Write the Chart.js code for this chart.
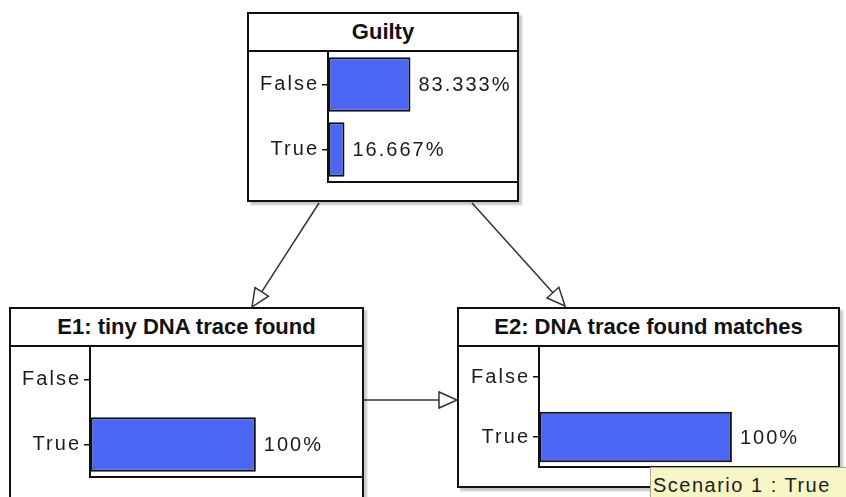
<!DOCTYPE html>
<html>
<head>
<meta charset="utf-8">
<script src="https://cdn.jsdelivr.net/npm/chart.js@4"></script>
<style>
  html, body { margin: 0; padding: 0; background: #fff; }
  body { width: 846px; height: 497px; position: relative; overflow: hidden; font-family: "Liberation Sans", Arial, sans-serif; }
  .node { position: absolute; box-sizing: border-box; border: 2px solid #111; background: #fff; box-shadow: 3px 3px 2px rgba(0,0,0,0.22); }
  .node .title { height: 38px; box-sizing: border-box; border-bottom: 2px solid #111; text-align: center; font: bold 22px "Liberation Sans", Arial, sans-serif; line-height: 36px; color: #111; }
  .node canvas { display: block; }
  #links { position: absolute; left: 0; top: 0; }
  #note { position: absolute; left: 650px; top: 467px; width: 200px; height: 34px; box-sizing: border-box; background: #f8f6c6; border: 1px solid #a8a890; color: #222; font: 20px "Liberation Sans", Arial, sans-serif; letter-spacing: 1.5px; padding-left: 2px; line-height: 34px; }
</style>
</head>
<body>
<svg id="links" width="846" height="497"></svg>
<div id="note"></div>

<script>
// states and marginal probabilities (%) per node
const STATES = ["False", "True"];
const GUILTY = [83.333, 16.667];
const E1_TINY_TRACE = [0, 100];
const E2_TRACE_MATCHES = [0, 100];
const TITLES = ["Guilty", "E1: tiny DNA trace found", "E2: DNA trace found matches"];
const SCENARIO_NOTE = "Scenario 1 : True";

const COLORS = {
  bar: "#4b66f3",
  line: "#111",
  text: "#1c1c1c",
  arrow: "#333",
};

// box geometry of each node on the page
const LAYOUT = [
  { left: 247, top: 12, width: 272, height: 190, canvasH: 148, plotH: 130, axisW: 79, xMax: 191 },
  { left: 9, top: 307, width: 355, height: 200, canvasH: 150, plotH: 130, axisW: 79, xMax: 164 },
  { left: 457, top: 307, width: 383, height: 181, canvasH: 139, plotH: 120, axisW: 80, xMax: 155 },
];

const SERIES = [GUILTY, E1_TINY_TRACE, E2_TRACE_MATCHES];

function fmtPct(v) {
  return String(+v.toFixed(3)) + "%";
}

const spacingPlugin = {
  id: "spacing",
  beforeDraw(chart) { chart.ctx.letterSpacing = "2px"; },
};

const valueLabels = {
  id: "valueLabels",
  afterDatasetsDraw(chart) {
    const ctx = chart.ctx;
    const meta = chart.getDatasetMeta(0);
    const data = chart.data.datasets[0].data;
    ctx.save();
    ctx.letterSpacing = "2px";
    ctx.font = '20px "Liberation Sans", Arial, sans-serif';
    ctx.fillStyle = COLORS.text;
    ctx.textBaseline = "middle";
    ctx.textAlign = "left";
    meta.data.forEach((bar, i) => {
      if (!data[i]) return;
      ctx.fillText(fmtPct(data[i]), bar.x + 8, bar.y + 1);
    });
    ctx.restore();
  },
};

function buildNode(idx) {
  const L = LAYOUT[idx];
  const box = document.createElement("div");
  box.className = "node";
  Object.assign(box.style, {
    left: L.left + "px", top: L.top + "px",
    width: L.width + "px", height: L.height + "px",
  });
  const title = document.createElement("div");
  title.className = "title";
  title.textContent = TITLES[idx];
  box.appendChild(title);
  const canvas = document.createElement("canvas");
  canvas.width = L.width - 4;
  canvas.height = L.canvasH;
  box.appendChild(canvas);
  document.body.appendChild(box);

  new Chart(canvas, {
    type: "bar",
    data: {
      labels: STATES,
      datasets: [{
        data: SERIES[idx],
        backgroundColor: COLORS.bar,
        borderColor: COLORS.line,
        borderWidth: 2,
        borderSkipped: false,
        categoryPercentage: 1,
        barPercentage: 0.84,
      }],
    },
    options: {
      indexAxis: "y",
      responsive: false,
      animation: false,
      devicePixelRatio: 1,
      layout: { autoPadding: false, padding: { top: 0, right: 0, left: 0, bottom: L.canvasH - L.plotH } },
      plugins: { legend: { display: false }, tooltip: { enabled: false } },
      scales: {
        x: {
          min: 0,
          max: L.xMax,
          ticks: { display: false },
          grid: { display: true, drawOnChartArea: false, drawTicks: false },
          border: { display: true, color: COLORS.line, width: 2 },
          afterFit: (s) => { s.height = 0; s.paddingLeft = 0; s.paddingRight = 0; },
        },
        y: {
          ticks: {
            color: COLORS.text,
            padding: 3,
            font: { family: '"Liberation Sans", Arial, sans-serif', size: 20 },
          },
          grid: { offset: false, drawOnChartArea: false, drawTicks: true, tickLength: 6, color: COLORS.line, lineWidth: 1.5 },
          border: { display: true, color: COLORS.line, width: 2 },
          afterFit: (s) => { s.width = L.axisW; s.paddingTop = 0; s.paddingBottom = 0; },
        },
      },
    },
    plugins: [spacingPlugin, valueLabels],
  });
}

TITLES.forEach((_, i) => buildNode(i));

// arcs between nodes
const svgNS = "http://www.w3.org/2000/svg";
const links = document.getElementById("links");
function arrow(x1, y1, x2, y2) {
  const ang = Math.atan2(y2 - y1, x2 - x1);
  const len = 18, half = 8;
  const bx = x2 - len * Math.cos(ang), by = y2 - len * Math.sin(ang);
  const line = document.createElementNS(svgNS, "line");
  line.setAttribute("x1", x1); line.setAttribute("y1", y1);
  line.setAttribute("x2", bx); line.setAttribute("y2", by);
  line.setAttribute("stroke", COLORS.arrow); line.setAttribute("stroke-width", "1.5");
  links.appendChild(line);
  const px = -Math.sin(ang) * half, py = Math.cos(ang) * half;
  const head = document.createElementNS(svgNS, "polygon");
  head.setAttribute("points", `${x2},${y2} ${bx + px},${by + py} ${bx - px},${by - py}`);
  head.setAttribute("fill", "#fff");
  head.setAttribute("stroke", COLORS.arrow);
  head.setAttribute("stroke-width", "1.5");
  links.appendChild(head);
}
arrow(319, 203, 252, 307);
arrow(472, 203, 565, 306);
arrow(364, 400, 457, 400);

const note = document.getElementById("note");
note.textContent = SCENARIO_NOTE;
document.body.appendChild(note);
</script>
</body>
</html>
